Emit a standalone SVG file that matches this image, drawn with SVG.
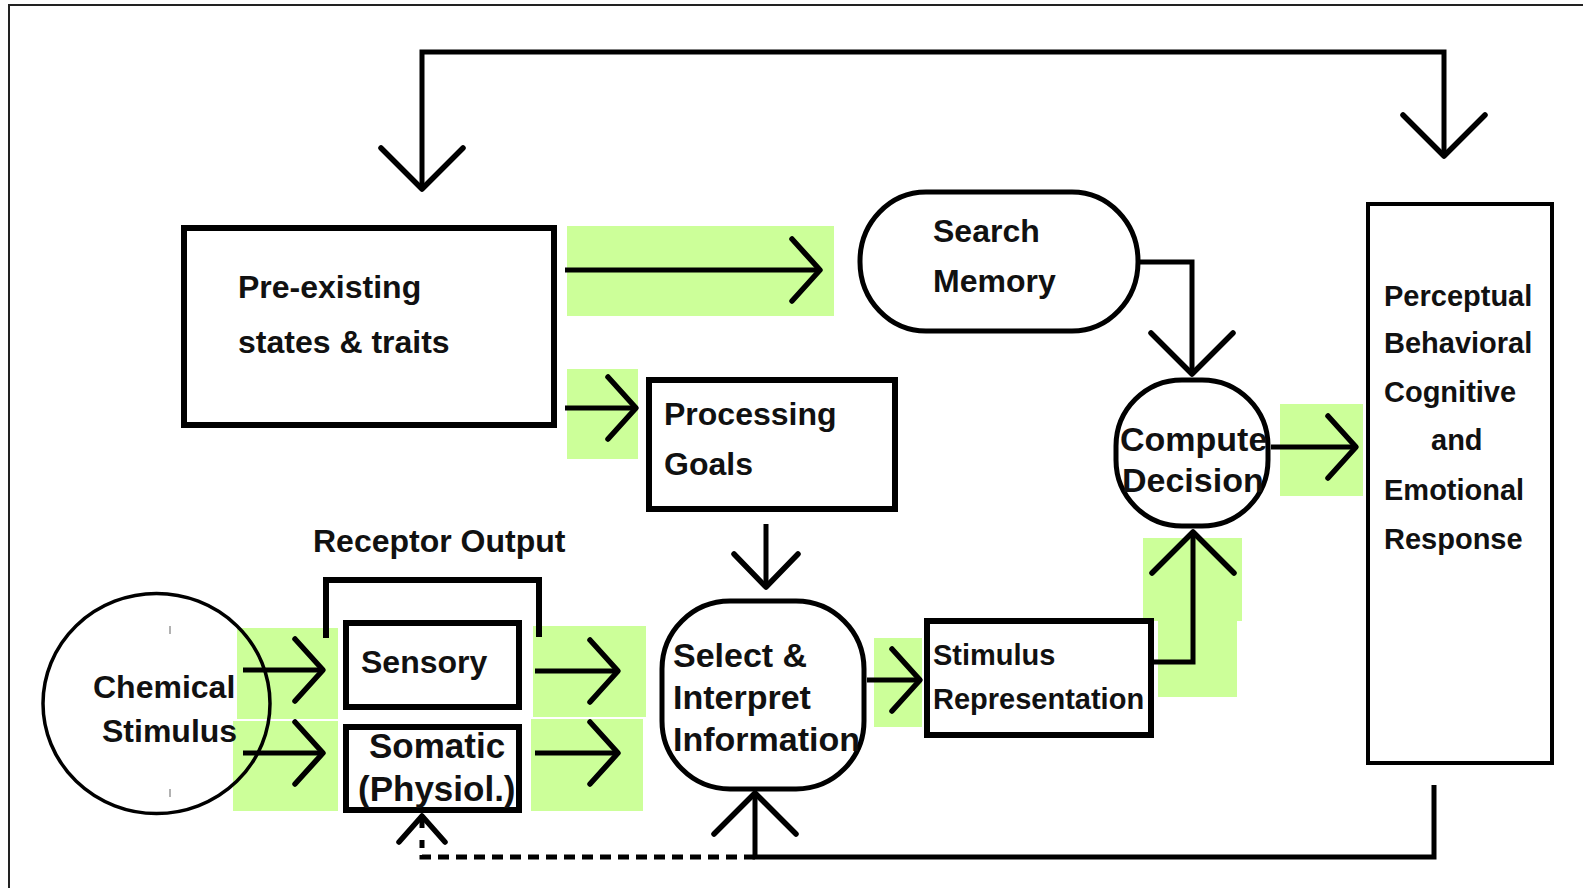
<svg xmlns="http://www.w3.org/2000/svg" width="1583" height="888" viewBox="0 0 1583 888">
<style>
.frame{fill:none;stroke:#222;stroke-width:2}
.hl{fill:#ccff99}
.box{fill:none;stroke:#000;stroke-width:6}
.thin{fill:none;stroke:#000;stroke-width:4}
.ln{fill:none;stroke:#000;stroke-width:5}
.dash{fill:none;stroke:#000;stroke-width:5;stroke-dasharray:11 7}
.tick{fill:none;stroke:#999;stroke-width:1.5}
text{font-family:"Liberation Sans",Arial,Helvetica,sans-serif;font-weight:bold;fill:#111}
.t32{font-size:32px}
.t34{font-size:34px}
.t35{font-size:35px}
.t29{font-size:29px}
</style>
<defs>
<marker id="ab" markerUnits="userSpaceOnUse" markerWidth="100" markerHeight="100" viewBox="-50 -50 100 100" refX="0" refY="0" orient="auto-start-reverse" overflow="visible">
<path d="M-41,-41 L0,0 L-41,41" fill="none" stroke="#000" stroke-width="5.5" stroke-linecap="round" stroke-linejoin="round"/>
</marker>
<marker id="am" markerUnits="userSpaceOnUse" markerWidth="100" markerHeight="100" viewBox="-50 -50 100 100" refX="0" refY="0" orient="auto" overflow="visible">
<path d="M-33,-32 L0,0 L-33,32" fill="none" stroke="#000" stroke-width="5.5" stroke-linecap="round" stroke-linejoin="round"/>
</marker>
<marker id="as" markerUnits="userSpaceOnUse" markerWidth="100" markerHeight="100" viewBox="-50 -50 100 100" refX="0" refY="0" orient="auto" overflow="visible">
<path d="M-28,-31 L0,0 L-28,31" fill="none" stroke="#000" stroke-width="5.5" stroke-linecap="round" stroke-linejoin="round"/>
</marker>
<marker id="ad" markerUnits="userSpaceOnUse" markerWidth="100" markerHeight="100" viewBox="-50 -50 100 100" refX="0" refY="0" orient="auto" overflow="visible">
<path d="M-26,-23 L0,0 L-26,23" fill="none" stroke="#000" stroke-width="5.5" stroke-linecap="round" stroke-linejoin="round"/>
</marker>
</defs>
<rect x="0" y="0" width="1583" height="888" fill="#fff"/>
<path class="frame" d="M9,888 V5 H1583"/>

<g id="highlights">
<rect class="hl" x="567" y="226" width="267" height="90"/>
<rect class="hl" x="567" y="369" width="71" height="90"/>
<rect class="hl" x="237" y="628" width="101" height="91"/>
<rect class="hl" x="233" y="721" width="105" height="90"/>
<rect class="hl" x="533" y="626" width="113" height="91"/>
<rect class="hl" x="531" y="719" width="112" height="92"/>
<rect class="hl" x="874" y="638" width="48" height="89"/>
<rect class="hl" x="1280" y="404" width="83" height="92"/>
<rect class="hl" x="1143" y="538" width="99" height="83"/>
<rect class="hl" x="1158" y="621" width="79" height="76"/>
</g>

<g id="preexisting">
<rect class="box" x="184" y="228" width="370" height="197"/>
<text class="t32" x="238" y="298">Pre-existing</text>
<text class="t32" x="238" y="353">states &amp; traits</text>
</g>

<g id="processing-goals">
<rect class="box" x="649" y="380" width="246" height="129"/>
<text class="t32" x="664" y="425">Processing</text>
<text class="t32" x="664" y="475">Goals</text>
</g>

<g id="search-memory">
<rect class="ln" x="860" y="192" width="278" height="139" rx="66" ry="69"/>
<text class="t32" x="933" y="242">Search</text>
<text class="t32" x="933" y="292">Memory</text>
</g>

<g id="compute-decision">
<rect class="ln" x="1116" y="380" width="152" height="146" rx="66" ry="66"/>
<text class="t34" x="1120" y="451">Compute</text>
<text class="t34" x="1122" y="492">Decision</text>
</g>

<g id="response">
<rect class="thin" x="1368" y="204" width="184" height="559"/>
<text class="t29" x="1384" y="306">Perceptual</text>
<text class="t29" x="1384" y="353">Behavioral</text>
<text class="t29" x="1384" y="402">Cognitive</text>
<text class="t29" x="1431" y="450">and</text>
<text class="t29" x="1384" y="500">Emotional</text>
<text class="t29" x="1384" y="549">Response</text>
</g>

<g id="chemical-stimulus">
<ellipse cx="156.5" cy="703.5" rx="113.5" ry="110" fill="none" stroke="#000" stroke-width="3.5"/>
<path class="tick" d="M170,626 V634 M170,789 V797"/>
<text class="t32" x="93" y="698">Chemical</text>
<text class="t32" x="102" y="742">Stimulus</text>
</g>

<g id="receptor-output">
<path class="box" d="M326,638 V580 H539 V637"/>
<text class="t32" x="313" y="552">Receptor Output</text>
</g>

<g id="sensory">
<rect class="box" x="346" y="623" width="173" height="84"/>
<text class="t32" x="361" y="673">Sensory</text>
</g>

<g id="somatic">
<rect class="box" x="346" y="727" width="173" height="83"/>
<text class="t35" x="369" y="758">Somatic</text>
<text class="t35" x="358" y="801">(Physiol.)</text>
</g>

<g id="select-interpret">
<rect class="ln" x="662" y="601" width="202" height="188" rx="68" ry="68"/>
<text class="t34" x="673" y="667">Select &amp;</text>
<text class="t34" x="673" y="709">Interpret</text>
<text class="t34" x="673" y="751">Information</text>
</g>

<g id="stimulus-representation">
<rect class="box" x="927" y="621" width="224" height="114"/>
<text class="t29" x="933" y="665">Stimulus</text>
<text class="t29" x="933" y="709">Representation</text>
</g>

<g id="connectors">
<path class="ln" d="M422,189 V52 H1444 V156" marker-start="url(#ab)" marker-end="url(#ab)"/>
<path class="ln" d="M565,270 H820" marker-end="url(#as)"/>
<path class="ln" d="M565,408 H636" marker-end="url(#as)"/>
<path class="ln" d="M1140,262 H1192 V374" marker-end="url(#ab)"/>
<path class="ln" d="M766,524 V587" marker-end="url(#am)"/>
<path class="ln" d="M1271,447 H1356" marker-end="url(#as)"/>
<path class="ln" d="M243,670 H323" marker-end="url(#as)"/>
<path class="ln" d="M243,753 H323" marker-end="url(#as)"/>
<path class="ln" d="M535,671 H618" marker-end="url(#as)"/>
<path class="ln" d="M535,753 H618" marker-end="url(#as)"/>
<path class="ln" d="M867,680 H920" marker-end="url(#as)"/>
<path class="ln" d="M1153,662 H1193 V532" marker-end="url(#ab)"/>
<path class="ln" d="M1434,785 V857 H755 V793" marker-end="url(#ab)"/>
<path class="dash" d="M755,857 H422 V840"/>
<path class="ln" d="M422,828 V816" marker-end="url(#ad)"/>
</g>
</svg>
